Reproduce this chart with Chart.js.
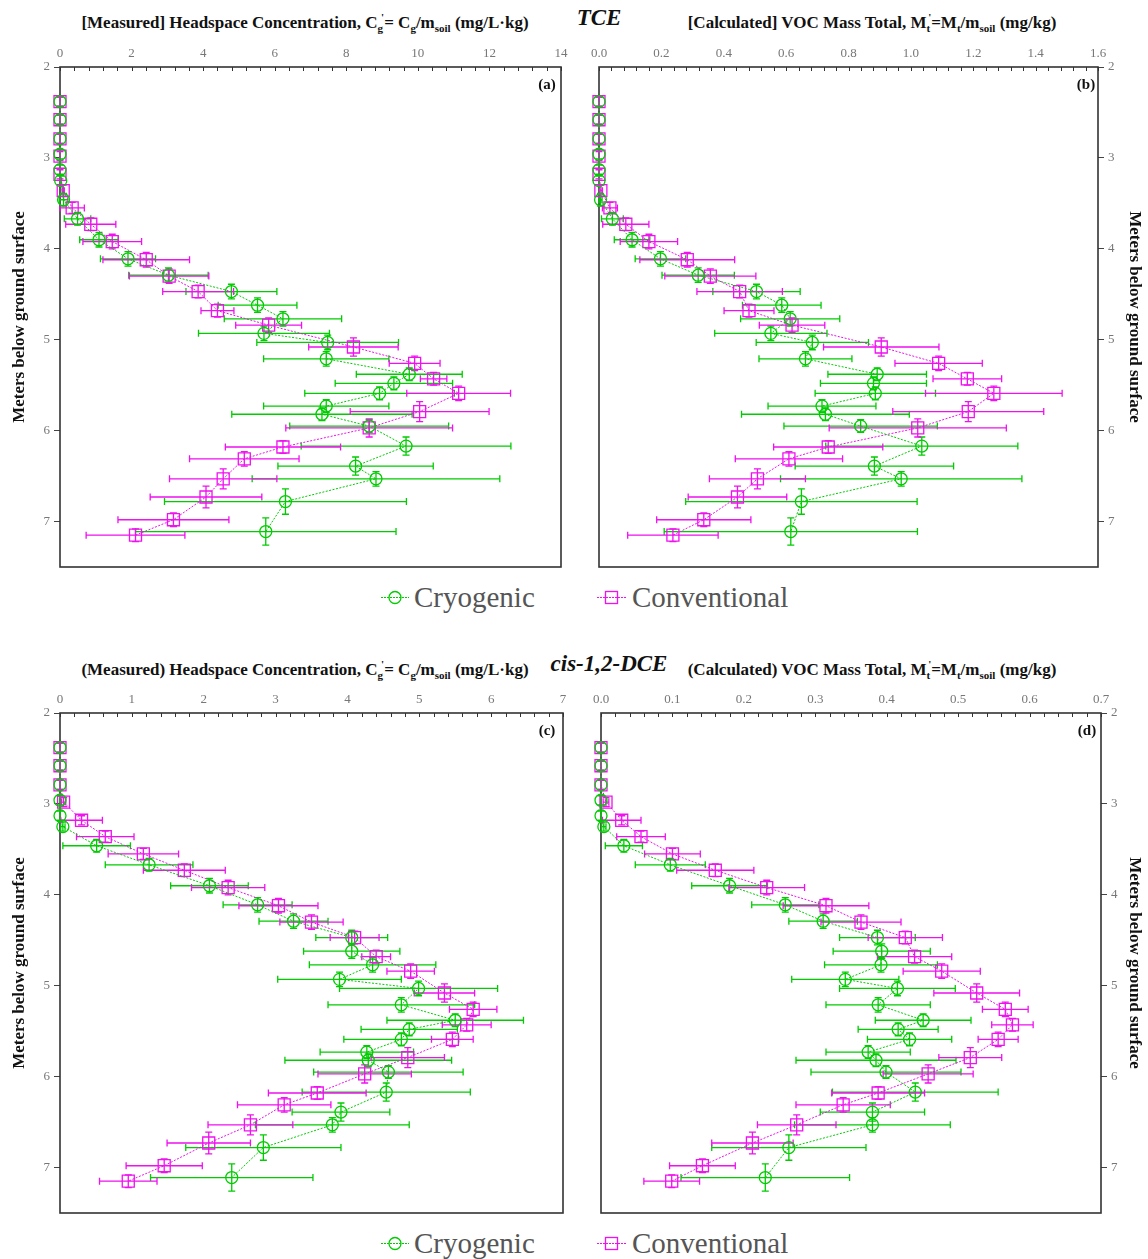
<!DOCTYPE html>
<html><head><meta charset="utf-8">
<script src="https://cdn.jsdelivr.net/npm/chart.js@4.4.1/dist/chart.umd.min.js"></script>
<style>
body{margin:0;background:#fff;width:1148px;height:1259px;position:relative;overflow:hidden;font-family:"Liberation Serif","Times New Roman",serif;}
canvas{position:absolute;}
.t{position:absolute;font-weight:bold;font-size:17px;color:#111;white-space:nowrap;transform:translate(-50%,-50%);line-height:1;}
.t sub{font-size:11px;vertical-align:-4px;line-height:0;}
.t sup{font-size:11px;vertical-align:7px;line-height:0;margin-left:-2px;}
.sp{position:absolute;font-weight:bold;font-style:italic;font-size:23px;color:#111;white-space:nowrap;transform:translate(-50%,-50%);}
.lab{position:absolute;font-weight:bold;font-size:15px;color:#111;transform:translate(-50%,-50%);}
.leg{position:absolute;display:flex;align-items:center;font-size:29px;color:#555;transform:translate(0,-50%);white-space:nowrap;}
</style></head>
<body>
<div class="t" style="left:305px;top:22px">[Measured] Headspace Concentration, C<sub>g</sub><sup>'</sup>= C<sub>g</sub>/m<sub>soil</sub> (mg/L·kg)</div>
<div class="sp" style="left:599px;top:18px">TCE</div>
<div class="t" style="left:872px;top:22px">[Calculated] VOC Mass Total, M<sub>t</sub><sup>'</sup>=M<sub>t</sub>/m<sub>soil</sub> (mg/kg)</div>
<div class="t" style="left:305px;top:669px">(Measured) Headspace Concentration, C<sub>g</sub><sup>'</sup>= C<sub>g</sub>/m<sub>soil</sub> (mg/L·kg)</div>
<div class="sp" style="left:609px;top:664px">cis-1,2-DCE</div>
<div class="t" style="left:872px;top:669px">(Calculated) VOC Mass Total, M<sub>t</sub><sup>'</sup>=M<sub>t</sub>/m<sub>soil</sub> (mg/kg)</div>

<canvas id="ca" width="580" height="540" style="left:0;top:40px"></canvas>
<canvas id="cb" width="568" height="540" style="left:580px;top:40px"></canvas>
<canvas id="cc" width="580" height="540" style="left:0;top:686px"></canvas>
<canvas id="cd" width="568" height="540" style="left:580px;top:686px"></canvas>

<div class="lab" style="left:547px;top:84px">(a)</div>
<div class="lab" style="left:1086px;top:84px">(b)</div>
<div class="lab" style="left:547px;top:730px">(c)</div>
<div class="lab" style="left:1087px;top:730px">(d)</div>

<div class="leg" style="left:381px;top:597px"><svg width="28" height="16"><line x1="0" y1="8" x2="28" y2="8" stroke="#00cc00" stroke-width="1" stroke-dasharray="2,1"/><circle cx="14" cy="8" r="6" fill="none" stroke="#00cc00" stroke-width="1.3"/></svg><span style="margin-left:5px">Cryogenic</span></div>
<div class="leg" style="left:597px;top:597px"><svg width="29" height="16"><line x1="0" y1="8" x2="29" y2="8" stroke="#f010f0" stroke-width="1" stroke-dasharray="2,1"/><rect x="8.5" y="2" width="12" height="12" fill="none" stroke="#f010f0" stroke-width="1.3"/></svg><span style="margin-left:6px">Conventional</span></div>
<div class="leg" style="left:381px;top:1243px"><svg width="28" height="16"><line x1="0" y1="8" x2="28" y2="8" stroke="#00cc00" stroke-width="1" stroke-dasharray="2,1"/><circle cx="14" cy="8" r="6" fill="none" stroke="#00cc00" stroke-width="1.3"/></svg><span style="margin-left:5px">Cryogenic</span></div>
<div class="leg" style="left:597px;top:1243px"><svg width="29" height="16"><line x1="0" y1="8" x2="29" y2="8" stroke="#f010f0" stroke-width="1" stroke-dasharray="2,1"/><rect x="8.5" y="2" width="12" height="12" fill="none" stroke="#f010f0" stroke-width="1.3"/></svg><span style="margin-left:6px">Conventional</span></div>

<script>
// ---- Depths (m below ground surface) ----
const depthCryo = [2.38,2.58,2.79,2.96,3.13,3.25,3.46,3.67,3.90,4.11,4.29,4.47,4.62,4.77,4.93,5.03,5.21,5.38,5.48,5.59,5.73,5.82,5.95,6.17,6.39,6.53,6.78,7.11];
const depthErrCryo = [0.05,0.05,0.05,0.05,0.05,0.05,0.07,0.07,0.08,0.08,0.08,0.08,0.08,0.08,0.08,0.08,0.08,0.07,0.07,0.07,0.07,0.07,0.07,0.10,0.10,0.08,0.14,0.15];
const depthConv = [2.38,2.58,2.79,2.98,3.18,3.36,3.55,3.73,3.92,4.12,4.30,4.47,4.68,4.84,5.08,5.26,5.43,5.59,5.79,5.97,6.18,6.31,6.53,6.73,6.98,7.15];
const depthErrConv = [0.05,0.05,0.05,0.05,0.05,0.06,0.06,0.07,0.08,0.08,0.08,0.07,0.07,0.08,0.10,0.08,0.07,0.08,0.11,0.10,0.07,0.08,0.11,0.12,0.075,0.07];

// ---- (a) TCE headspace concentration Cg' (mg/L·kg) ----
const tceCgCryo = [0,0,0,0,0,0.02,0.10,0.49,1.09,1.90,3.03,4.79,5.52,6.23,5.70,7.48,7.44,9.76,9.33,8.93,7.44,7.32,8.64,9.67,8.26,8.83,6.30,5.75];
const tceCgCryoErr = [0,0,0,0,0,0.02,0.12,0.37,0.54,0.77,1.11,1.27,1.10,1.64,1.83,1.98,1.75,1.48,1.64,2.09,1.75,2.52,2.22,2.93,2.17,3.46,3.38,3.64];
const tceCgConv = [0,0,0,0,0,0.09,0.34,0.86,1.46,2.41,3.05,3.86,4.40,5.83,8.20,9.91,10.44,11.14,10.05,8.64,6.23,5.15,4.56,4.08,3.17,2.11];
const tceCgConvErr = [0,0,0,0,0,0.03,0.34,0.70,0.82,1.21,1.11,0.99,0.46,0.92,1.25,0.71,0.37,1.45,1.94,2.33,1.61,1.53,1.50,1.56,1.55,1.38];

// ---- (b) TCE VOC mass total Mt' (mg/kg) ----
const tceMtCryo = [0,0,0,0,0,0,0.005,0.043,0.106,0.197,0.318,0.505,0.586,0.613,0.551,0.684,0.662,0.892,0.880,0.886,0.715,0.726,0.839,1.035,0.883,0.969,0.649,0.615];
const tceMtCryoErr = [0,0,0,0,0,0,0.005,0.035,0.057,0.081,0.116,0.140,0.126,0.159,0.180,0.180,0.149,0.158,0.170,0.193,0.173,0.269,0.246,0.308,0.254,0.387,0.371,0.406];
const tceMtConv = [0,0,0,0,0,0.006,0.035,0.086,0.160,0.283,0.357,0.451,0.481,0.619,0.905,1.089,1.181,1.266,1.184,1.022,0.735,0.609,0.508,0.444,0.336,0.237];
const tceMtConvErr = [0,0,0,0,0,0.005,0.024,0.074,0.092,0.152,0.146,0.137,0.080,0.105,0.185,0.140,0.110,0.219,0.242,0.284,0.175,0.172,0.154,0.158,0.151,0.145];

// ---- (c) cis-1,2-DCE headspace concentration Cg' (mg/L·kg) ----
const dceCgCryo = [0,0,0,0,0,0.04,0.51,1.24,2.08,2.75,3.25,4.06,4.06,4.35,3.89,4.99,4.75,5.50,4.86,4.75,4.27,4.29,4.57,4.54,3.91,3.79,2.83,2.39];
const dceCgCryoErr = [0,0,0,0,0,0.03,0.47,0.61,0.54,0.48,0.48,0.50,0.67,0.88,0.86,1.10,1.02,0.95,0.67,0.80,0.65,1.16,1.04,1.17,0.68,1.07,1.08,1.13];
const dceCgConv = [0,0,0,0.05,0.30,0.63,1.16,1.73,2.34,3.04,3.50,4.10,4.40,4.88,5.35,5.75,5.66,5.46,4.84,4.24,3.58,3.12,2.65,2.07,1.45,0.95];
const dceCgConvErr = [0,0,0,0.03,0.29,0.40,0.49,0.57,0.51,0.55,0.44,0.34,0.20,0.33,0.42,0.33,0.34,0.29,0.51,0.65,0.68,0.65,0.59,0.58,0.53,0.40];

// ---- (d) cis-1,2-DCE VOC mass total Mt' (mg/kg) ----
const dceMtCryo = [0,0,0,0,0,0.004,0.032,0.097,0.180,0.258,0.311,0.387,0.393,0.392,0.342,0.415,0.388,0.451,0.416,0.432,0.374,0.385,0.399,0.440,0.380,0.380,0.263,0.230];
const dceMtCryoErr = [0,0,0,0,0,0.003,0.026,0.049,0.053,0.047,0.048,0.053,0.068,0.079,0.075,0.081,0.073,0.067,0.056,0.059,0.059,0.112,0.105,0.116,0.073,0.109,0.108,0.118];
const dceMtConv = [0,0,0,0.007,0.029,0.056,0.100,0.160,0.232,0.315,0.364,0.426,0.439,0.477,0.526,0.566,0.576,0.556,0.517,0.458,0.388,0.339,0.274,0.212,0.142,0.099];
const dceMtConvErr = [0,0,0,0.004,0.027,0.034,0.039,0.054,0.053,0.060,0.056,0.052,0.052,0.054,0.060,0.032,0.029,0.028,0.044,0.063,0.065,0.066,0.055,0.057,0.046,0.039];

// ---- Axis settings ----
const yTitle = 'Meters below ground surface';
const depthMin = 2, depthMax = 7.5, depthStep = 1;

const GREEN = '#00cc00', MAGENTA = '#f010f0';
const FONT = '"Liberation Serif","Times New Roman",serif';

const errorBarPlugin = {
  id: 'errbars',
  beforeDatasetsDraw(chart) {
    const {ctx, scales: {x, y}} = chart;
    chart.data.datasets.forEach(ds => {
      ctx.save();
      ctx.strokeStyle = ds.borderColor;
      ctx.lineWidth = 1.3;
      ds.data.forEach((p, i) => {
        const px = x.getPixelForValue(p.x), py = y.getPixelForValue(p.y);
        const ex = ds.xErr[i], ey = ds.yErr[i];
        ctx.beginPath();
        if (ex > 0) {
          const l = x.getPixelForValue(p.x - ex), r = x.getPixelForValue(p.x + ex);
          ctx.moveTo(l, py); ctx.lineTo(r, py);
          ctx.moveTo(l, py - 3.5); ctx.lineTo(l, py + 3.5);
          ctx.moveTo(r, py - 3.5); ctx.lineTo(r, py + 3.5);
        }
        if (ey > 0) {
          const t = y.getPixelForValue(p.y - ey), b = y.getPixelForValue(p.y + ey);
          ctx.moveTo(px, t); ctx.lineTo(px, b);
          ctx.moveTo(px - 3.5, t); ctx.lineTo(px + 3.5, t);
          ctx.moveTo(px - 3.5, b); ctx.lineTo(px + 3.5, b);
        }
        ctx.stroke();
      });
      ctx.restore();
    });
  }
};

const framePlugin = {
  id: 'frame',
  beforeDatasetsDraw(chart, args, opts) {
    const {ctx, chartArea: a, scales: {x}} = chart;
    ctx.save();
    ctx.strokeStyle = '#333';
    ctx.lineWidth = 1.6;
    ctx.strokeRect(a.left, a.top, a.right - a.left, a.bottom - a.top);
    ctx.lineWidth = 1;
    const n = Math.round(x.max / opts.minor);
    for (let k = 0; k <= n; k++) {
      const px = Math.round(x.getPixelForValue(k * opts.minor)) + 0.5;
      ctx.beginPath(); ctx.moveTo(px, a.top); ctx.lineTo(px, a.top + 4); ctx.stroke();
    }
    ctx.restore();
  }
};

function series(depths, vals, errs, depthErrs, label, color, style, radius) {
  return {
    label, data: depths.map((d, i) => ({x: vals[i], y: d})),
    xErr: errs, yErr: depthErrs,
    showLine: true, borderColor: color, borderWidth: 1, borderDash: [2, 1.5],
    pointStyle: style, pointRadius: radius, pointBorderWidth: 1.3,
    pointBackgroundColor: 'rgba(0,0,0,0)', backgroundColor: 'rgba(0,0,0,0)',
    pointHoverRadius: radius, clip: false
  };
}

function panel(id, c) {
  return new Chart(document.getElementById(id), {
    type: 'scatter',
    data: {datasets: [
      series(depthCryo, c.cryo, c.cryoErr, depthErrCryo, 'Cryogenic', GREEN, 'circle', 6),
      series(depthConv, c.conv, c.convErr, depthErrConv, 'Conventional', MAGENTA, 'rect', 8.5)
    ]},
    plugins: [framePlugin, errorBarPlugin],
    options: {
      responsive: false, animation: false, devicePixelRatio: 1,
      layout: {padding: c.pad},
      plugins: {legend: {display: false}, tooltip: {enabled: false}, frame: {minor: c.minor}},
      scales: {
        x: {
          type: 'linear', position: 'top', min: 0, max: c.xMax,
          ticks: {stepSize: c.xStep, padding: 6, color: '#777', font: {family: FONT, size: 13},
                  callback: v => c.dec ? Number(v).toFixed(c.dec) : String(Math.round(v))},
          grid: {display: false, drawTicks: false}, border: {display: false},
          afterFit: s => { s.height = 27; }
        },
        y: {
          type: 'linear', position: c.yPos, reverse: true, min: depthMin, max: depthMax,
          ticks: {stepSize: depthStep, includeBounds: false, padding: 4, color: '#777', font: {family: FONT, size: 13}},
          grid: {display: true, drawOnChartArea: false, drawTicks: true, tickLength: 6, color: '#444', lineWidth: 1},
          border: {display: false},
          title: {display: true, text: yTitle, color: '#111', font: {family: FONT, size: 17, weight: 'bold'}, padding: {top: c.titlePad, bottom: 0}},
          afterFit: s => { s.width = c.yW; }
        }
      }
    }
  });
}

panel('ca', {cryo: tceCgCryo, cryoErr: tceCgCryoErr, conv: tceCgConv, convErr: tceCgConvErr,
  xMax: 14, xStep: 2, minor: 0.4, dec: 0, yPos: 'left', yW: 60, titlePad: 9,
  pad: {left: 0, right: 19, top: 0, bottom: 13}});
panel('cb', {cryo: tceMtCryo, cryoErr: tceMtCryoErr, conv: tceMtConv, convErr: tceMtConvErr,
  xMax: 1.6, xStep: 0.2, minor: 0.04, dec: 1, yPos: 'right', yW: 50, titlePad: 3,
  pad: {left: 19, right: 0, top: 0, bottom: 13}});
panel('cc', {cryo: dceCgCryo, cryoErr: dceCgCryoErr, conv: dceCgConv, convErr: dceCgConvErr,
  xMax: 7, xStep: 1, minor: 0.2, dec: 0, yPos: 'left', yW: 60, titlePad: 9,
  pad: {left: 0, right: 17, top: 0, bottom: 13}});
panel('cd', {cryo: dceMtCryo, cryoErr: dceMtCryoErr, conv: dceMtConv, convErr: dceMtConvErr,
  xMax: 0.7, xStep: 0.1, minor: 0.02, dec: 1, yPos: 'right', yW: 47, titlePad: 3,
  pad: {left: 21, right: 0, top: 0, bottom: 13}});
</script>
</body></html>
